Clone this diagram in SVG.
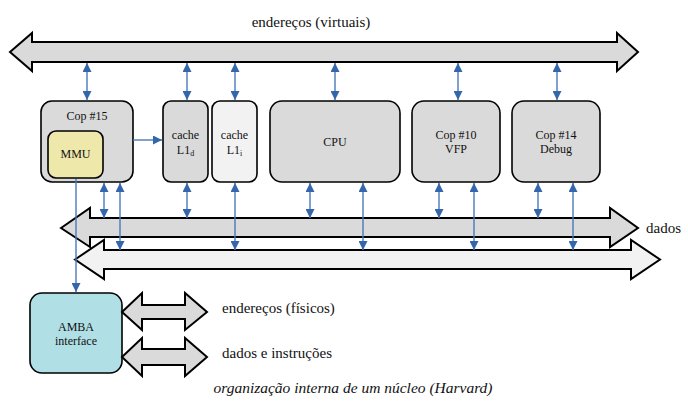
<svg xmlns="http://www.w3.org/2000/svg" width="688" height="405" viewBox="0 0 688 405">
<style>
.bus{stroke:#000;stroke-width:2;stroke-linejoin:miter}
.g{fill:#dadada}
.l{fill:#f2f2f2}
.box{stroke:#000;stroke-width:1.6}
.bt{font-family:'Liberation Serif',serif;font-size:12px;fill:#111;text-anchor:middle}
.lab{font-family:'Liberation Serif',serif;font-size:15px;fill:#111}
.c{stroke:#4a78b8;stroke-width:1.4;fill:none}
</style>
<defs>
<marker id="ah" viewBox="0 0 10 10" refX="10" refY="5" markerWidth="9" markerHeight="9" markerUnits="userSpaceOnUse" orient="auto-start-reverse">
<path d="M0,0 L10,5 L0,10 z" fill="#3366aa"/>
</marker>
</defs>
<text class="lab" x="311" y="27" text-anchor="middle">endereços (virtuais)</text>
<g id="bus-virtual"><polygon class="bus g" points="10,52 32,33 32,42 617,42 617,33 638,52 617,71 617,62 32,62 32,71"/></g>
<g id="bus-dados"><polygon class="bus g" points="61,228 90,208 90,218 610,218 610,208 638,228 610,247 610,237 90,237 90,247"/></g>
<g id="bus-instr"><polygon class="bus l" points="75,259.5 104,240 104,250 631,250 631,240 660,259.5 631,279 631,269 104,269 104,279"/></g>
<text class="lab" x="646" y="233">dados</text>
<g id="cop15"><rect class="box g" x="41" y="101" width="92" height="81" rx="11"/><text class="bt" x="87" y="120">Cop #15</text></g>
<g id="mmu"><rect class="box" fill="#eee8aa" x="48" y="131" width="55" height="47" rx="8"/><text class="bt" x="75.5" y="158">MMU</text></g>
<g id="cacheL1d"><rect class="box g" x="163" y="101" width="45" height="81" rx="8"/><text class="bt" x="185.5" y="139">cache</text><text class="bt" x="185.5" y="154">L1<tspan font-size="8" dy="2">d</tspan></text></g>
<g id="cacheL1i"><rect class="box l" x="212" y="101" width="45" height="81" rx="8"/><text class="bt" x="234.5" y="139">cache</text><text class="bt" x="234.5" y="154">L1<tspan font-size="8" dy="2">i</tspan></text></g>
<g id="cpu"><rect class="box g" x="270" y="101" width="130" height="81" rx="12"/><text class="bt" x="335" y="146">CPU</text></g>
<g id="cop10"><rect class="box g" x="412" y="101" width="88" height="81" rx="12"/><text class="bt" x="456" y="139">Cop #10</text><text class="bt" x="456" y="153">VFP</text></g>
<g id="cop14"><rect class="box g" x="512" y="101" width="88" height="81" rx="12"/><text class="bt" x="556" y="139">Cop #14</text><text class="bt" x="556" y="153">Debug</text></g>
<g id="amba"><rect class="box" fill="#b0dfe5" x="30" y="293" width="92" height="80" rx="12"/><text class="bt" x="76" y="331">AMBA</text><text class="bt" x="76" y="345">interface</text></g>
<g id="bus-fisicos"><polygon class="bus g" points="122,312 142,293 142,305 185,305 185,293 207,312 185,330 185,319 142,319 142,330"/></g>
<g id="bus-dadosinstr"><polygon class="bus g" points="122,357 142,338 142,349 185,349 185,338 207,357 185,376 185,365 142,365 142,376"/></g>
<text class="lab" x="222" y="313">endereços (físicos)</text>
<text class="lab" x="222" y="358">dados e instruções</text>
<text class="lab" x="353" y="393" text-anchor="middle" style="font-style:italic;font-size:15.5px">organização interna de um núcleo (Harvard)</text>
<g id="connectors">
<line class="c" x1="87" y1="63" x2="87" y2="100" marker-start="url(#ah)" marker-end="url(#ah)"/>
<line class="c" x1="187" y1="63" x2="187" y2="100" marker-start="url(#ah)" marker-end="url(#ah)"/>
<line class="c" x1="235" y1="63" x2="235" y2="100" marker-start="url(#ah)" marker-end="url(#ah)"/>
<line class="c" x1="335" y1="63" x2="335" y2="100" marker-start="url(#ah)" marker-end="url(#ah)"/>
<line class="c" x1="458" y1="63" x2="458" y2="100" marker-start="url(#ah)" marker-end="url(#ah)"/>
<line class="c" x1="557" y1="63" x2="557" y2="100" marker-start="url(#ah)" marker-end="url(#ah)"/>
<line class="c" x1="133" y1="140" x2="162" y2="140" marker-end="url(#ah)"/>
<line class="c" x1="104" y1="183" x2="104" y2="218" marker-start="url(#ah)" marker-end="url(#ah)"/>
<line class="c" x1="120" y1="183" x2="120" y2="250" marker-start="url(#ah)" marker-end="url(#ah)"/>
<line class="c" x1="187" y1="183" x2="187" y2="218" marker-start="url(#ah)" marker-end="url(#ah)"/>
<line class="c" x1="235" y1="183" x2="235" y2="250" marker-start="url(#ah)" marker-end="url(#ah)"/>
<line class="c" x1="310" y1="183" x2="310" y2="218" marker-start="url(#ah)" marker-end="url(#ah)"/>
<line class="c" x1="363" y1="183" x2="363" y2="250" marker-start="url(#ah)" marker-end="url(#ah)"/>
<line class="c" x1="439" y1="183" x2="439" y2="218" marker-start="url(#ah)" marker-end="url(#ah)"/>
<line class="c" x1="474" y1="183" x2="474" y2="250" marker-start="url(#ah)" marker-end="url(#ah)"/>
<line class="c" x1="538" y1="183" x2="538" y2="218" marker-start="url(#ah)" marker-end="url(#ah)"/>
<line class="c" x1="573" y1="183" x2="573" y2="250" marker-start="url(#ah)" marker-end="url(#ah)"/>
<line class="c" x1="76" y1="179" x2="76" y2="292" marker-end="url(#ah)"/>
</g>
</svg>
